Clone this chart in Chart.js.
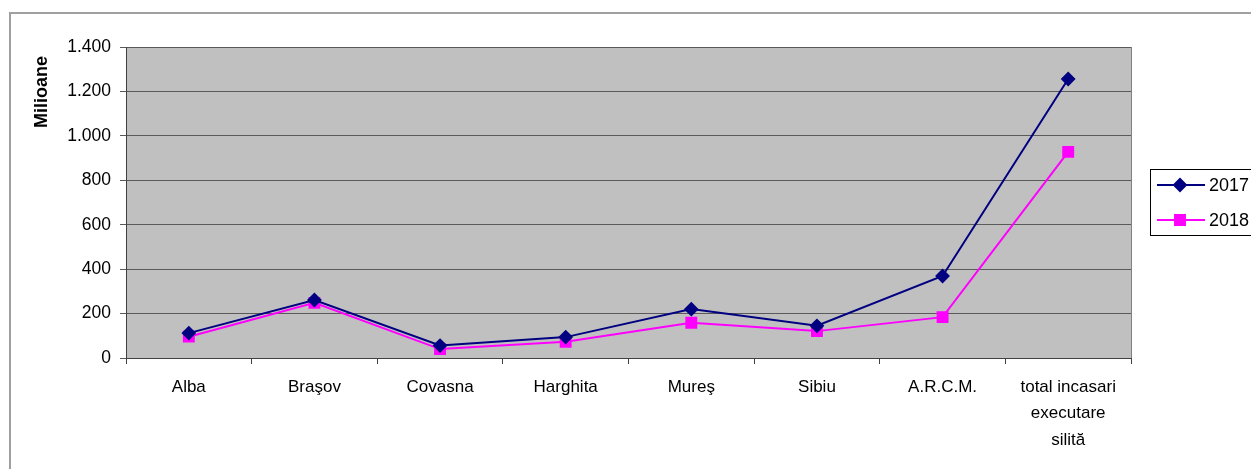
<!DOCTYPE html>
<html>
<head>
<meta charset="utf-8">
<script src="https://cdn.jsdelivr.net/npm/chart.js@4"></script>
<style>
  html, body { margin: 0; padding: 0; background: #fff; overflow: hidden; }
  #wrap { width: 1251px; height: 469px; }
</style>
</head>
<body>
<div id="wrap"><canvas id="graph"></canvas></div>
<script>
const labels = ['Alba', 'Braşov', 'Covasna', 'Harghita', 'Mureş', 'Sibiu', 'A.R.C.M.', ['total incasari', 'executare', 'silită']]
const years = ['2017', '2018']
const val2017 = [112, 261, 56, 94, 220, 145, 369, 1256]
const val2018 = [96, 248, 40, 73, 159, 121, 184, 928]
const yTicks = [0, 200, 400, 600, 800, 1000, 1200, 1400]
const yTitle = 'Milioane'

const FONT = 'Arial, "Liberation Sans", sans-serif'

// gray plot area + outer frame + axis title
const frame = {
  id: 'frame',
  beforeDraw(chart) {
    const { ctx, chartArea: a } = chart
    ctx.save()
    ctx.fillStyle = '#fff'
    ctx.fillRect(0, 0, chart.width, chart.height)
    ctx.strokeStyle = '#a0a0a0'
    ctx.lineWidth = 2
    ctx.strokeRect(10, 13, 1400, 600)
    ctx.fillStyle = '#c0c0c0'
    ctx.fillRect(a.left, a.top, a.right - a.left, a.bottom - a.top)
    // title of the value axis
    ctx.translate(42, 92)
    ctx.rotate(-Math.PI / 2)
    ctx.fillStyle = '#000'
    ctx.font = 'bold 18px ' + FONT
    ctx.textAlign = 'center'
    ctx.textBaseline = 'middle'
    ctx.fillText(yTitle, 0, 0)
    ctx.restore()
  },
  afterDatasetsDraw(chart) {
    const { ctx, chartArea: a } = chart
    ctx.save()
    ctx.strokeStyle = '#808080'
    ctx.lineWidth = 1
    ctx.beginPath()
    ctx.moveTo(a.right + 0.5, a.top)
    ctx.lineTo(a.right + 0.5, a.bottom)
    ctx.stroke()
    ctx.restore()
  }
}

// legend box like the original, partly cut by the right edge
const sideLegend = {
  id: 'sideLegend',
  afterDraw(chart) {
    const ctx = chart.ctx
    ctx.save()
    ctx.strokeStyle = '#000'
    ctx.lineWidth = 1
    ctx.strokeRect(1150.5, 169.5, 140, 66)
    chart.data.datasets.forEach((ds, i) => {
      const y = 185 + i * 35
      ctx.strokeStyle = ds.borderColor
      ctx.lineWidth = 2
      ctx.beginPath()
      ctx.moveTo(1157, y)
      ctx.lineTo(1205, y)
      ctx.stroke()
      ctx.fillStyle = ds.backgroundColor
      Chart.helpers.drawPoint(ctx, { pointStyle: ds.pointStyle, radius: ds.pointRadius, borderWidth: 1 }, 1180, y)
      ctx.fillStyle = '#000'
      ctx.font = '18px ' + FONT
      ctx.textBaseline = 'middle'
      ctx.fillText(ds.label, 1209, y + 1)
    })
    ctx.restore()
  }
}

new Chart(document.getElementById('graph'), {
  type: 'line',
  plugins: [frame, sideLegend],
  data: {
    labels: labels,
    datasets: [
      {
        label: years[0],
        data: val2017,
        borderColor: '#000080',
        backgroundColor: '#000080',
        borderWidth: 2,
        pointStyle: 'rectRot',
        pointRadius: 6,
        tension: 0
      },
      {
        label: years[1],
        data: val2018,
        borderColor: '#ff00ff',
        backgroundColor: '#ff00ff',
        borderWidth: 2,
        pointStyle: 'rect',
        pointRadius: 7,
        tension: 0
      }
    ]
  },
  options: {
    responsive: true,
    maintainAspectRatio: false,
    animation: false,
    layout: { padding: { left: 0, right: 120, top: 47, bottom: 0 } },
    plugins: {
      legend: { display: false },
      tooltip: { enabled: false }
    },
    scales: {
      x: {
        offset: true,
        afterFit: s => { s.height = 111 },
        grid: {
          offset: true,
          drawOnChartArea: false,
          drawTicks: true,
          tickLength: 6,
          color: '#404040'
        },
        border: { color: '#404040', width: 1 },
        ticks: {
          color: '#000',
          padding: 10,
          maxRotation: 0,
          autoSkip: false,
          font: { family: FONT, size: 17, lineHeight: 1.55 }
        }
      },
      y: {
        min: 0,
        max: 1400,
        afterFit: s => { s.width = 126 },
        afterBuildTicks: s => { s.ticks = yTicks.map(v => ({ value: v })) },
        grid: {
          color: '#5a5a5a',
          tickLength: 6
        },
        border: { color: '#404040', width: 1 },
        ticks: {
          color: '#000',
          padding: 9,
          font: { family: FONT, size: 17.5 },
          callback: v => v.toLocaleString('de-DE')
        }
      }
    }
  }
})
</script>
</body>
</html>
